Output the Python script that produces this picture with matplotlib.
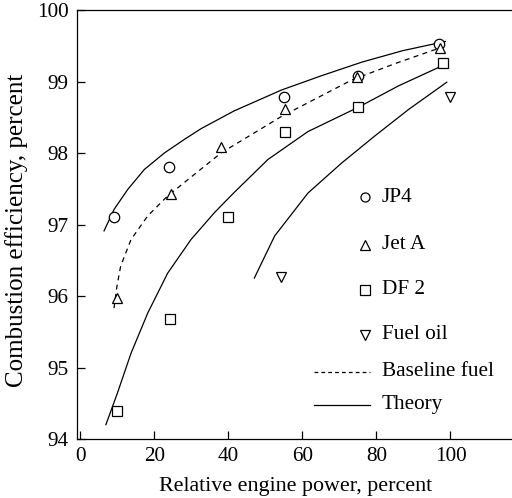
import matplotlib
matplotlib.use('Agg')
import matplotlib.pyplot as plt

# --- datos medidos ---
jp4_x = [9, 24, 55, 75, 97]
jp4_y = [97.1, 97.8, 98.78, 99.08, 99.52]

jeta_x = [10, 24.5, 38, 55.4, 74.8, 97.3]
jeta_y = [95.97, 97.42, 98.09, 98.61, 99.06, 99.47]

df2_x = [9.8, 24.2, 40, 55.4, 75, 98]
df2_y = [94.39, 95.68, 97.11, 98.29, 98.64, 99.26]

oil_x = [54.3, 100]
oil_y = [96.27, 98.78]

# curvas
teo_jp4_x = [6.4, 9.1, 12.8, 17.3, 22.7, 28.1, 32.6, 41.6, 54.3, 65.1, 76, 87, 98.6]
teo_jp4_y = [96.91, 97.21, 97.49, 97.77, 98.0, 98.19, 98.34, 98.59, 98.88, 99.08, 99.27, 99.43, 99.56]

base_x = [9.1, 9.9, 10.9, 13.7, 18.2, 23.6, 30.8, 38, 54.3, 73.3, 85, 97.7]
base_y = [95.83, 96.14, 96.42, 96.79, 97.12, 97.40, 97.70, 98.0, 98.51, 99.02, 99.25, 99.48]

teo_df2_x = [6.9, 10, 13.7, 18.2, 23.6, 29.9, 36.3, 41.6, 50.7, 61.5, 75.1, 86, 98.6]
teo_df2_y = [94.20, 94.64, 95.20, 95.76, 96.32, 96.79, 97.17, 97.45, 97.91, 98.30, 98.64, 98.94, 99.24]

teo_oil_x = [47.0, 52.5, 61.5, 70.6, 79.6, 88.7, 99.0]
teo_oil_y = [96.25, 96.84, 97.44, 97.86, 98.24, 98.61, 98.99]

xticks = [0, 20, 40, 60, 80, 100]
yticks = [94, 95, 96, 97, 98, 99, 100]

plt.rcParams['font.family'] = ['Liberation Serif', 'DejaVu Serif']

fig = plt.figure(figsize=(5.12, 4.98), dpi=100)
ax = fig.add_axes([77 / 512, 1 - 439 / 498, 1 - 77 / 512 + 0.01, (439 - 10) / 498])

lw = 0.9
ax.plot(teo_jp4_x, teo_jp4_y, color='black', lw=lw)
ax.plot(teo_df2_x, teo_df2_y, color='black', lw=lw)
ax.plot(teo_oil_x, teo_oil_y, color='black', lw=lw)
ax.plot(base_x, base_y, color='black', lw=lw, dashes=(4, 3.5))

mk = dict(ls='none', mfc='white', mec='black', mew=0.9, ms=7.5)
ax.plot(jp4_x, jp4_y, marker='o', **mk)
ax.plot(jeta_x, jeta_y, marker='^', **mk)
ax.plot(df2_x, df2_y, marker='s', **mk)
ax.plot(oil_x, oil_y, marker='v', **mk)

ax.set_xlim(-0.9, 118)
ax.set_ylim(94, 100)
ax.set_xticks(xticks)
ax.set_yticks(yticks)
ax.tick_params(direction='in', length=6, width=0.9, labelsize=15.3, pad=6)
ax.spines['right'].set_visible(False)
for s in ['left', 'bottom', 'top']:
    ax.spines[s].set_linewidth(0.9)

# etiquetas de ejes, ubicadas a mano
fig.text(296 / 512, 1 - 486 / 498, 'Relative engine power, percent',
         fontsize=15.8, ha='center', va='center')
fig.text(17 / 512, 1 - 230 / 498, 'Combustion efficiency, percent',
         fontsize=18, ha='center', va='center', rotation=90)

# leyenda manual
ley_x_mk, ley_x_txt = 76.8, 81.4
ley_y = [97.38, 96.72, 96.09, 95.46, 94.94, 94.48]
marcas = ['o', '^', 's', 'v']
nombres = ['JP4', 'Jet A', 'DF 2', 'Fuel oil', 'Baseline fuel', 'Theory']
for m, yy in zip(marcas, ley_y[:4]):
    ax.plot([ley_x_mk], [yy], marker=m, **dict(mk, ms=6.5))
ax.plot([63, 78.2], [ley_y[4]] * 2, color='black', lw=lw, dashes=(3, 2.5))
ax.plot([63, 78.2], [ley_y[5]] * 2, color='black', lw=lw)
for t, yy in zip(nombres, ley_y):
    ax.text(ley_x_txt, yy, t, fontsize=15.3, va='center', ha='left')

fig.savefig('out.png', dpi=100)
